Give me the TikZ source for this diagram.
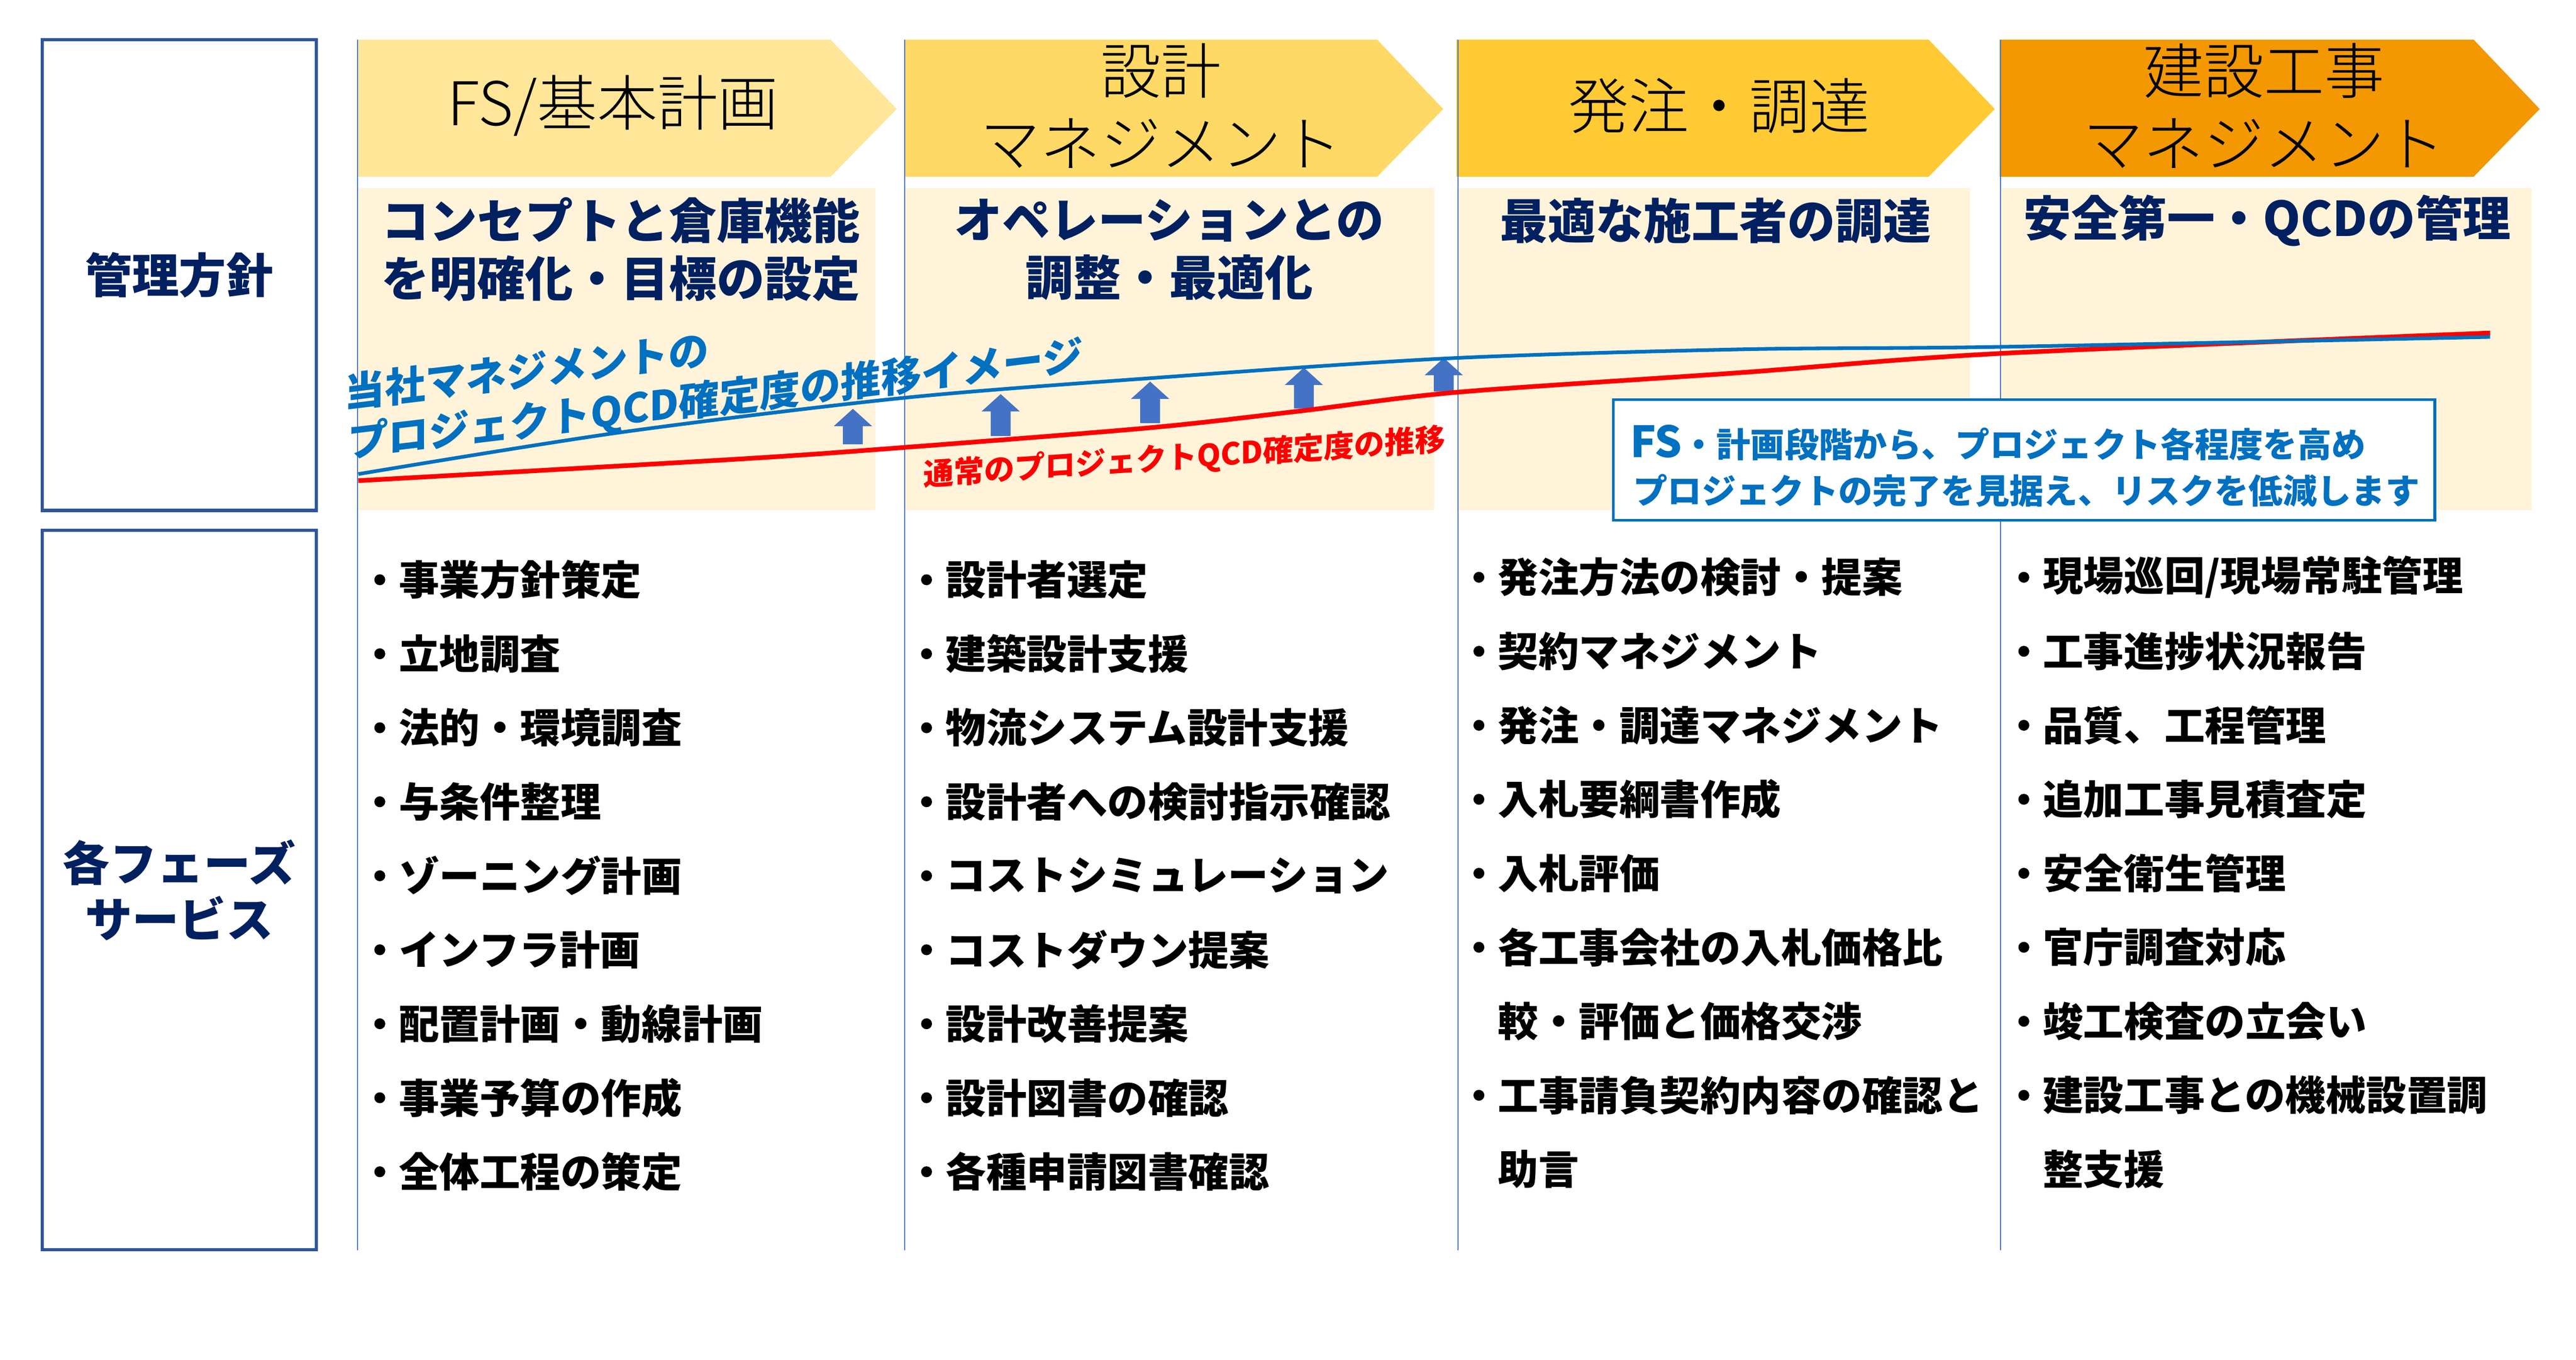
\documentclass[tikz,border=0pt]{standalone}
\usepackage{fontspec}
\setmainfont{Noto Sans CJK JP}
\newfontfamily\lightjp{Noto Sans CJK JP Light}

\definecolor{chevA}{HTML}{FFE699}
\definecolor{chevB}{HTML}{FFD966}
\definecolor{chevC}{HTML}{FFCA33}
\definecolor{chevD}{HTML}{F39800}
\definecolor{cream}{HTML}{FFF4D9}
\definecolor{navy}{HTML}{002060}
\definecolor{frameblue}{HTML}{2F5597}
\definecolor{qcdblue}{HTML}{0070C0}
\definecolor{liftblue}{HTML}{4472C4}
\definecolor{qcdred}{HTML}{FF0000}

\tikzset{
  phasehead/.style={font=\lightjp\fontsize{36.5}{44}\selectfont, align=center, inner sep=0pt},
  policy/.style={font=\bfseries\fontsize{29}{35}\selectfont, text=navy, align=center, inner sep=0pt},
  rowbox/.style={draw=frameblue, line width=2pt, font=\bfseries\fontsize{28.5}{34}\selectfont, text=navy, align=center},
  item/.style={font=\bfseries\fontsize{24.5}{24.5}\selectfont, anchor=west, inner sep=0pt},
  colrule/.style={liftblue, line width=0.6pt},
  trendnote/.style={font=\bfseries\fontsize{24.5}{24.5}\selectfont, inner sep=0pt, anchor=base west, transform shape},
  fsnote/.style={font=\bfseries\fontsize{20.7}{20.7}\selectfont, text=qcdblue, inner sep=0pt, anchor=west}
}

\begin{document}
\begin{tikzpicture}[x=1pt, y=-1pt]
    \useasboundingbox (0,0) rectangle (1560,823.2);

    % cream panels
    \foreach \xa/\xb in {216.5/530, 547.7/868.6, 882/1193, 1212/1533}
        \fill[cream] (\xa,114) rectangle (\xb,309);

    % phase chevrons
    \foreach \xa/\xb/\col in {216.5/503/chevA, 548/834/chevB, 882/1168/chevC, 1211/1498/chevD}
        \fill[\col] (\xa,24) -- (\xb,24) -- (\xb+40,66) -- (\xb,107) -- (\xa,107) -- cycle;

    % column rules
    \foreach \xa in {216.5, 548, 883, 1211.5}
        \draw[colrule] (\xa,24) -- (\xa,757);

    % row labels
    \node[rowbox, minimum width=166pt, minimum height=285pt] (policy) at (108.5,166.5) {管理方針};
    \node[rowbox, minimum width=166pt, minimum height=435.5pt] (service) at (108.5,538.8) {各フェーズ\\サービス};

    % phase names
    \node[phasehead] (fs) at (371,64) {FS/基本計画};
    \node[phasehead] (design) at (703,64) {設計\\マネジメント};
    \node[phasehead] (order) at (1041,64) {発注・調達};
    \node[phasehead] (build) at (1371,64) {建設工事\\マネジメント};

    % policies
    \node[policy] (concept) at (376,151) {コンセプトと倉庫機能\\を明確化・目標の設定};
    \node[policy] (operation) at (708,151) {オペレーションとの\\調整・最適化};
    \node[policy] (contractor) at (1039,133.5) {最適な施工者の調達};
    \node[policy] (safety) at (1373,133.5) {安全第一・QCDの管理};

    % lift arrows
    \foreach \ax/\ab/\at in {516.5/269/247.5, 606/264/238.6, 696.5/256.2/231, 789.6/247.3/222.6, 874.3/237/216.7}
        \fill[liftblue] (\ax-6,\ab) -- (\ax-6,\at+10.5) -- (\ax-11.6,\at+10.5) -- (\ax,\at)
            -- (\ax+11.6,\at+10.5) -- (\ax+6,\at+10.5) -- (\ax+6,\ab) -- cycle;

    % QCD curves
    \draw[qcdred, line width=2.8pt] plot[smooth, tension=0.5] coordinates {(217,291) (446,278) (546,271) (696,259) (786,249) (882,237.5) (1054,225.6) (1211,214) (1508,201.6)};
    \draw[qcdblue, line width=2.2pt] plot[smooth, tension=0.5] coordinates {(217,287) (374,262) (546,241) (696,229) (876,217) (1054,211.5) (1211,210) (1508,204)};

    % slanted notes
    \begin{scope}[shift={(208.5,247)}, yslant=0.12]
        \node[trendnote, text=qcdblue] (ours1) at (0,0) {当社マネジメントの};
    \end{scope}
    \begin{scope}[shift={(210.5,277)}, yslant=0.12]
        \node[trendnote, text=qcdblue] (ours2) at (0,0) {プロジェクトQCD確定度の推移イメージ};
    \end{scope}
    \begin{scope}[shift={(559,294)}, yslant=0.068]
        \node[trendnote, text=qcdred, font=\bfseries\fontsize{18.4}{18.4}\selectfont] (usual) at (0,0) {通常のプロジェクトQCD確定度の推移};
    \end{scope}

    % FS callout
    \node[draw=qcdblue, line width=1.6pt, fill=white, minimum width=497.5pt, minimum height=73pt, inner sep=0pt] (fsbox) at (1225.75,278.4) {};
    \node[fsnote] (fsnote1) at (987,268) {{\fontsize{26}{26}\selectfont FS}・計画段階から、プロジェクト各程度を高め};
    \node[fsnote] (fsnote2) at (989,297) {プロジェクトの完了を見据え、リスクを低減します};

    % service lists
    \foreach \t [count=\i] in {事業方針策定, 立地調査, 法的・環境調査, 与条件整理, ゾーニング計画, インフラ計画, 配置計画・動線計画, 事業予算の作成, 全体工程の策定} {
        \node[item] (fsitem\i) at (241.4, {351+44.8*(\i-1)}) {\t};
        \fill ([xshift=-11.4pt]fsitem\i.west) circle (3.3);
    }
    \foreach \t [count=\i] in {設計者選定, 建築設計支援, 物流システム設計支援, 設計者への検討指示確認, コストシミュレーション, コストダウン提案, 設計改善提案, 設計図書の確認, 各種申請図書確認} {
        \node[item] (designitem\i) at (572.5, {351+44.8*(\i-1)}) {\t};
        \fill ([xshift=-11.4pt]designitem\i.west) circle (3.3);
    }
    \foreach \t/\b [count=\i] in {発注方法の検討・提案/1, 契約マネジメント/1, 発注・調達マネジメント/1, 入札要綱書作成/1, 入札評価/1, 各工事会社の入札価格比/1, 較・評価と価格交渉/0, 工事請負契約内容の確認と/1, 助言/0} {
        \node[item] (orderitem\i) at (907, {349.5+44.8*(\i-1)}) {\t};
        \ifnum\b=1 \fill ([xshift=-11.4pt]orderitem\i.west) circle (3.3); \fi
    }
    \foreach \t/\b [count=\i] in {{現場巡回/現場常駐管理}/1, 工事進捗状況報告/1, 品質、工程管理/1, 追加工事見積査定/1, 安全衛生管理/1, 官庁調査対応/1, 竣工検査の立会い/1, 建設工事との機械設置調/1, 整支援/0} {
        \node[item] (builditem\i) at (1237, {349.5+44.8*(\i-1)}) {\t};
        \ifnum\b=1 \fill ([xshift=-11.4pt]builditem\i.west) circle (3.3); \fi
    }

\end{tikzpicture}
\end{document}
